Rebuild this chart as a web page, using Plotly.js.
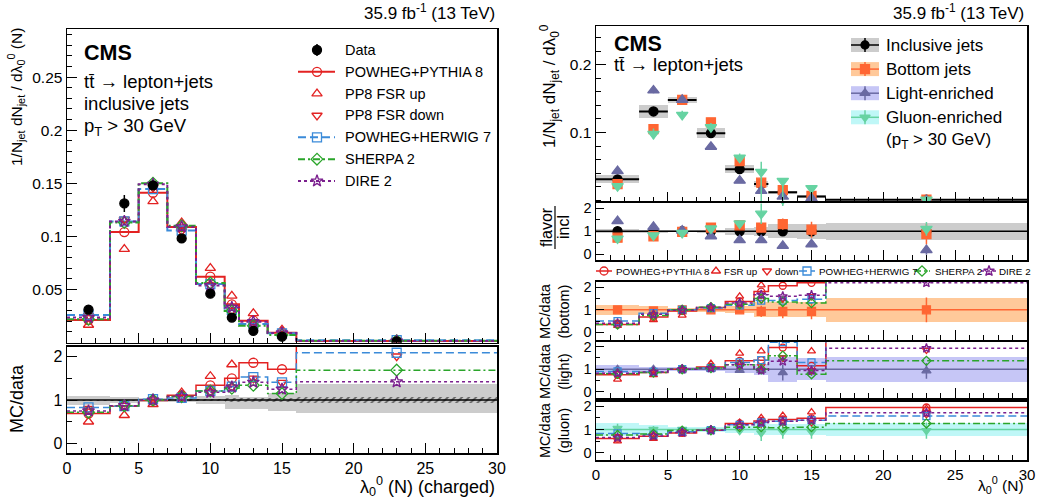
<!DOCTYPE html>
<html><head><meta charset="utf-8">
<script src="https://cdn.plot.ly/plotly-3.0.1.min.js"></script>
<style>html,body{margin:0;padding:0;background:#fff}#chart{width:1040px;height:498px}</style>
</head><body><div id="chart"></div>
<script>
// ---------------- DATA ----------------
const binEdges = [0, 3, 5, 7, 9, 11, 12, 14, 16, 30];
const binCenters = [1.5, 4, 6, 8, 10, 11.5, 13, 15, 23];

// Left: inclusive jets, lambda_0^0 (N) charged, normalized distribution
const dataIncl      = [0.031, 0.131, 0.148, 0.098, 0.046, 0.0235, 0.011, 0.0055, 0.001];
const dataInclErr   = [0.002, 0.008, 0.003, 0.004, 0.003, 0.002, 0.001, 0.001, 0.0003];
const pp8Incl       = [0.0212, 0.104, 0.141, 0.1087, 0.062, 0.036, 0.0206, 0.0093, 0.0014];
const fsrUpIncl     = [0.0165, 0.088, 0.133, 0.113, 0.070, 0.044, 0.0275, 0.012, 0.0016];
const fsrDownIncl   = [0.025, 0.116, 0.146, 0.105, 0.054, 0.030, 0.017, 0.008, 0.002];
const herwigIncl    = [0.026, 0.114, 0.1445, 0.1055, 0.055, 0.0307, 0.0175, 0.0086, 0.0022];
const sherpaIncl    = [0.022, 0.113, 0.150, 0.110, 0.056, 0.0297, 0.0158, 0.007, 0.0017];
const direIncl      = [0.0235, 0.114, 0.149, 0.109, 0.0536, 0.033, 0.0196, 0.009, 0.0014];

// Left: MC/data
const ratioTotUp    = [0.10, 0.06, 0.04, 0.04, 0.10, 0.12, 0.08, 0.17, 0.36];
const ratioTotDown  = [0.12, 0.06, 0.04, 0.04, 0.10, 0.20, 0.20, 0.25, 0.29];
const ratioStat     = [0.01, 0.01, 0.01, 0.015, 0.03, 0.04, 0.05, 0.05, 0.06];
const pp8Ratio      = [0.69, 0.86, 0.99, 1.11, 1.34, 1.50, 1.86, 1.71, 2.9];
const fsrUpRatio    = [0.50, 0.65, 0.90, 1.17, 1.55, 1.82, 2.4, 2.3, 2.5];
const fsrDownRatio  = [0.80, 0.87, 1.00, 1.05, 1.20, 1.30, 1.50, 1.40, 2.01];
const herwigRatio   = [0.83, 0.86, 1.02, 1.05, 1.21, 1.31, 1.53, 1.41, 2.09];
const sherpaRatio   = [0.72, 0.87, 1.00, 1.08, 1.21, 1.27, 1.34, 1.15, 1.69];
const direRatio     = [0.75, 0.87, 1.00, 1.08, 1.18, 1.30, 1.41, 1.25, 1.42];

// Right: flavour-dependent distributions
const flavInclusive    = [0.031, 0.131, 0.148, 0.099, 0.046, 0.024, 0.012, 0.0055, 0.001];
const flavInclusiveUnc = [0.006, 0.009, 0.004, 0.007, 0.006, 0.004, 0.002, 0.002, 0.001];
const flavBottom       = [0.024, 0.105, 0.148, 0.115, 0.058, 0.026, 0.015, 0.0065, 0.001];
const flavBottomErr    = [0.001, 0.004, 0.003, 0.003, 0.003, 0.003, 0.004, 0.003, 0.0005];
const flavLight        = [0.043, 0.162, 0.148, 0.079, 0.029, 0.014, 0.0055, 0.003, 0.0002];
const flavLightErr     = [0.002, 0.004, 0.003, 0.003, 0.002, 0.002, 0.002, 0.002, 0.0005];
const flavGluon        = [0.021, 0.098, 0.126, 0.108, 0.063, 0.042, 0.0287, 0.018, 0.001];
const flavGluonErrUp   = [0.002, 0.008, 0.006, 0.006, 0.006, 0.015, 0.004, 0.002, 0.002];
const flavGluonErrDn   = [0.002, 0.008, 0.006, 0.006, 0.006, 0.050, 0.030, 0.030, 0.002];

// Right: flavour / inclusive
const fracBand       = [0.08, 0.07, 0.05, 0.07, 0.15, 0.20, 0.30, 0.33, 0.38];
const fracBottom     = [0.72, 0.78, 0.97, 1.16, 1.26, 1.16, 1.31, 1.07, 0.87];
const fracBottomErr  = [0.05, 0.05, 0.03, 0.05, 0.10, 0.20, 0.25, 0.35, 0.45];
const fracLight      = [1.44, 1.19, 1.03, 0.78, 0.61, 0.61, 0.36, 0.43, 0.17];
const fracLightErr   = [0.05, 0.05, 0.05, 0.05, 0.08, 0.10, 0.10, 0.10, 0.20];
const fracGluon      = [0.68, 0.82, 0.93, 1.12, 1.34, 1.77, 2.40, 3.30, 1.10];
const fracGluonErr   = [0.08, 0.08, 0.06, 0.08, 0.12, 0.45, 0.30, 0.30, 0.30];

// Right: MC/data (bottom)
const bottomBand     = [0.22, 0.18, 0.08, 0.08, 0.15, 0.33, 0.33, 0.33, 0.54];
const bottomData     = [1.00, 0.95, 1.00, 1.00, 1.00, 0.93, 0.93, 0.93, 1.00];
const bottomDataErr  = [0.10, 0.10, 0.05, 0.05, 0.10, 0.25, 0.30, 0.35, 0.55];
const pp8Bottom      = [0.35, 0.68, 0.95, 1.10, 1.37, 1.81, 2.07, 2.20, 3.0];
const fsrUpBottom    = [0.30, 0.55, 0.75, 1.15, 1.60, 2.10, 2.60, 2.80, 3.5];
const fsrDownBottom  = [0.45, 0.80, 1.00, 1.10, 1.25, 1.45, 1.50, 1.60, 2.6];
const herwigBottom   = [0.50, 0.85, 1.00, 1.08, 1.20, 1.41, 1.41, 1.47, 2.6];
const sherpaBottom   = [0.35, 0.75, 1.00, 1.12, 1.25, 1.50, 1.35, 1.30, 2.5];
const direBottom     = [0.40, 0.80, 0.98, 1.10, 1.30, 1.67, 1.60, 1.65, 2.2];

// Right: MC/data (light)
const lightBand      = [0.18, 0.12, 0.08, 0.10, 0.15, 0.25, 0.55, 0.50, 0.55];
const lightData      = [1.00, 1.00, 1.00, 1.00, 0.95, 0.95, 0.85, 0.90, 0.93];
const lightDataErr   = [0.08, 0.08, 0.05, 0.05, 0.10, 0.15, 0.35, 0.20, 0.35];
const pp8Light       = [0.75, 0.85, 1.00, 1.10, 1.37, 1.40, 1.96, 1.15, 3.0];
const fsrUpLight     = [0.55, 0.75, 0.95, 1.25, 1.70, 1.80, 2.60, 1.80, 3.2];
const fsrDownLight   = [0.80, 0.90, 1.00, 1.05, 1.15, 1.15, 1.50, 0.95, 1.85];
const herwigLight    = [0.90, 0.88, 1.00, 1.05, 1.30, 1.40, 2.20, 1.30, 3.0];
const sherpaLight    = [0.80, 0.85, 1.00, 1.05, 1.20, 1.00, 1.60, 0.78, 1.37];
const direLight      = [0.82, 0.88, 1.00, 1.05, 1.20, 0.95, 1.35, 0.94, 1.93];

// Right: MC/data (gluon)
const gluonBand      = [0.27, 0.18, 0.12, 0.10, 0.15, 0.25, 0.25, 0.25, 0.27];
const gluonData      = [1.05, 1.00, 1.00, 1.00, 0.95, 0.85, 0.90, 0.90, 0.95];
const gluonDataErr   = [0.20, 0.15, 0.10, 0.08, 0.15, 0.35, 0.30, 0.30, 0.35];
const pp8Gluon       = [0.61, 0.71, 0.85, 0.97, 1.26, 1.37, 1.43, 1.48, 1.95];
const fsrUpGluon     = [0.50, 0.60, 0.80, 1.00, 1.30, 1.50, 1.60, 1.75, 1.90];
const fsrDownGluon   = [0.70, 0.75, 0.90, 0.97, 1.15, 1.25, 1.30, 1.30, 1.65];
const herwigGluon    = [0.83, 0.78, 0.90, 0.97, 1.20, 1.30, 1.35, 1.40, 1.58];
const sherpaGluon    = [0.76, 0.80, 0.95, 0.97, 1.10, 1.10, 1.07, 1.10, 1.26];
const direGluon      = [0.65, 0.72, 0.87, 0.97, 1.20, 1.30, 1.35, 1.40, 1.72];

const xTickVals = [0, 5, 10, 15, 20, 25, 30];
const legendNamesLeft = ['Data', 'POWHEG+PYTHIA 8', 'PP8 FSR up', 'PP8 FSR down', 'POWHEG+HERWIG 7', 'SHERPA 2', 'DIRE 2'];
const legendNamesFlav = ['Inclusive jets', 'Bottom jets', 'Light-enriched', 'Gluon-enriched'];
const legendNamesStrip = ['POWHEG+PYTHIA 8', 'FSR up', 'down', 'POWHEG+HERWIG 7', 'SHERPA 2', 'DIRE 2'];

// ---------------- STYLE ----------------
const W = 1040, H = 498;
const FONT = 'Liberation Sans, Arial, Helvetica, sans-serif';
const RED = '#e32222', BLUE = '#3b8bd9', GREEN = '#2aa52a', PURPLE = '#7b1f8e';
const ORANGE = '#ff6633', ORANGE_BAND = '#ffc99a';
const LIGHTC = '#6a6aa2', LIGHT_BAND = '#c6c6f6';
const GLUONC = '#66d3a2', GLUON_BAND = '#bff7f7';
const GRAY = '#cccccc';

const binWidths = binEdges.slice(1).map((e, i) => e - binEdges[i]);
const halfWidths = binWidths.map(w => w / 2);
const unity = binCenters.map(() => 1);
const xFull = [binEdges[0], binEdges[binEdges.length - 1]];

const models = [
  {key: 'pp8',     color: RED,    dash: 'solid',          symbol: 'circle-open'},
  {key: 'fsrUp',   color: RED,    dash: null,             symbol: 'triangle-up-open'},
  {key: 'fsrDown', color: RED,    dash: null,             symbol: 'triangle-down-open'},
  {key: 'herwig',  color: BLUE,   dash: '8px,4px',        symbol: 'square-open'},
  {key: 'sherpa',  color: GREEN,  dash: '7px,3px,2px,3px',symbol: 'diamond-open'},
  {key: 'dire',    color: PURPLE, dash: '3px,3px',        symbol: 'star-open'}
];
const setLeftMain = {pp8: pp8Incl, fsrUp: fsrUpIncl, fsrDown: fsrDownIncl, herwig: herwigIncl, sherpa: sherpaIncl, dire: direIncl};
const setLeftRatio = {pp8: pp8Ratio, fsrUp: fsrUpRatio, fsrDown: fsrDownRatio, herwig: herwigRatio, sherpa: sherpaRatio, dire: direRatio};
const setBottom = {pp8: pp8Bottom, fsrUp: fsrUpBottom, fsrDown: fsrDownBottom, herwig: herwigBottom, sherpa: sherpaBottom, dire: direBottom};
const setLight = {pp8: pp8Light, fsrUp: fsrUpLight, fsrDown: fsrDownLight, herwig: herwigLight, sherpa: sherpaLight, dire: direLight};
const setGluon = {pp8: pp8Gluon, fsrUp: fsrUpGluon, fsrDown: fsrDownGluon, herwig: herwigGluon, sherpa: sherpaGluon, dire: direGluon};

// ---------------- TRACE HELPERS ----------------
function stepTrace(vals, xa, ya, color, dash, width) {
  return {type: 'scatter', mode: 'lines', x: binEdges.slice(), y: vals.concat([vals[vals.length - 1]]),
    xaxis: xa, yaxis: ya, line: {shape: 'hv', color: color, dash: dash, width: width},
    hoverinfo: 'skip', showlegend: false};
}
function markerTrace(vals, xa, ya, symbol, color, size, errUp, errDn, xerr) {
  const t = {type: 'scatter', mode: 'markers', x: binCenters, y: vals, xaxis: xa, yaxis: ya,
    marker: {symbol: symbol, size: size, color: color, line: {width: 1.3, color: color}},
    hoverinfo: 'skip', showlegend: false};
  if (errUp) t.error_y = {type: 'data', symmetric: !errDn, array: errUp, arrayminus: errDn || errUp, color: color, thickness: 1.5, width: 0};
  if (xerr) t.error_x = {type: 'data', array: xerr, color: color, thickness: 2, width: 0};
  return t;
}
function bandTrace(center, up, dn, xa, ya, color, pattern) {
  const t = {type: 'bar', x: binCenters, base: center.map((c, i) => c - dn[i]), y: up.map((u, i) => u + dn[i]),
    width: binWidths, xaxis: xa, yaxis: ya, marker: {color: color, line: {width: 0}},
    hoverinfo: 'skip', showlegend: false};
  if (pattern) t.marker.pattern = pattern;
  return t;
}
function lineTrace(xs, ys, xa, ya, color, width, dash) {
  return {type: 'scatter', mode: 'lines', x: xs, y: ys, xaxis: xa, yaxis: ya,
    line: {color: color, width: width, dash: dash || 'solid'}, hoverinfo: 'skip', showlegend: false};
}
function mcTraces(set, xa, ya, lw, ms) {
  const out = [];
  models.forEach(m => { if (m.dash) out.push(stepTrace(set[m.key], xa, ya, m.color, m.dash, lw)); });
  models.forEach(m => { out.push(markerTrace(set[m.key], xa, ya, m.symbol, m.color, ms)); });
  return out;
}

const traces = [];
// Left main
traces.push(...mcTraces(setLeftMain, 'x', 'y', 2, 9));
traces.push(markerTrace(dataIncl, 'x', 'y', 'circle', '#000', 9, dataInclErr));
// Left ratio
traces.push(bandTrace(unity, ratioTotUp, ratioTotDown, 'x2', 'y2', GRAY));
traces.push(bandTrace(unity, ratioStat, ratioStat, 'x2', 'y2', 'rgba(0,0,0,0)',
  {shape: '/', fgcolor: '#000', bgcolor: 'rgba(0,0,0,0)', size: 5, solidity: 0.35, fillmode: 'overlay'}));
traces.push(lineTrace(xFull, [1, 1], 'x2', 'y2', '#000', 1.5));
traces.push(...mcTraces(setLeftRatio, 'x2', 'y2', 1.5, 9));

// Right main
traces.push(bandTrace(flavInclusive, flavInclusiveUnc, flavInclusiveUnc, 'x3', 'y3', GRAY));
traces.push(markerTrace(flavInclusive, 'x3', 'y3', 'circle', '#000', 9, null, null, halfWidths));
traces.push(markerTrace(flavBottom, 'x3', 'y3', 'square', ORANGE, 9, flavBottomErr));
traces.push(markerTrace(flavLight, 'x3', 'y3', 'triangle-up', LIGHTC, 10, flavLightErr));
traces.push(markerTrace(flavGluon, 'x3', 'y3', 'triangle-down', GLUONC, 10, flavGluonErrUp, flavGluonErrDn));

// Flavour / inclusive
traces.push(bandTrace(unity, fracBand, fracBand, 'x4', 'y4', GRAY));
traces.push(lineTrace(xFull, [1, 1], 'x4', 'y4', '#000', 1.5));
traces.push(markerTrace(unity, 'x4', 'y4', 'circle', '#000', 9));
traces.push(markerTrace(fracBottom, 'x4', 'y4', 'square', ORANGE, 9, fracBottomErr));
traces.push(markerTrace(fracLight, 'x4', 'y4', 'triangle-up', LIGHTC, 10, fracLightErr));
traces.push(markerTrace(fracGluon, 'x4', 'y4', 'triangle-down', GLUONC, 10, fracGluonErr));

// MC/data per flavour
function flavourRatio(xa, ya, band, bandColor, lineColor, dataVals, dataErr, symbol, set) {
  traces.push(bandTrace(unity, band, band, xa, ya, bandColor));
  traces.push(lineTrace(xFull, [1, 1], xa, ya, lineColor, 1.5));
  traces.push(markerTrace(dataVals, xa, ya, symbol, lineColor, 8, dataErr));
  traces.push(...mcTraces(set, xa, ya, 1.5, 7));
}
flavourRatio('x5', 'y5', bottomBand, ORANGE_BAND, ORANGE, bottomData, bottomDataErr, 'square', setBottom);
flavourRatio('x6', 'y6', lightBand, LIGHT_BAND, LIGHTC, lightData, lightDataErr, 'triangle-up', setLight);
flavourRatio('x7', 'y7', gluonBand, GLUON_BAND, GLUONC, gluonData, gluonDataErr, 'triangle-down', setGluon);

// ---------------- LEGENDS (pixel overlay axis x8/y8) ----------------
const shapes = [];
const annotations = [];
function ann(text, x, y, o) {
  o = o || {};
  annotations.push(Object.assign({text: text, x: x / W, y: 1 - y / H, xref: 'paper', yref: 'paper',
    showarrow: false, xanchor: o.xanchor || 'left', yanchor: o.yanchor || 'middle',
    textangle: o.angle || 0, align: o.align || 'left',
    font: {family: FONT, size: o.size || 15, color: '#000'}}, o.extra || {}));
}
function legGlyph(xm, y, x0, x1, color, dash, symbol, size, err, lw) {
  if (x0 !== null) traces.push(lineTrace([x0, x1], [y, y], 'x8', 'y8', color, lw || 2, dash));
  const t = {type: 'scatter', mode: 'markers', x: [xm], y: [y], xaxis: 'x8', yaxis: 'y8',
    marker: {symbol: symbol, size: size, color: color, line: {width: 1.3, color: color}},
    hoverinfo: 'skip', showlegend: false, cliponaxis: false};
  if (err) t.error_y = {type: 'data', array: [err], color: color, thickness: 1.5, width: 0};
  traces.push(t);
}

// Left legend
const LL = {x0: 298, x1: 335, xm: 317, xt: 343, y0: 50, dy: 21.83};
legendNamesLeft.forEach((name, i) => {
  const y = LL.y0 + i * LL.dy;
  if (i === 0) legGlyph(LL.xm, y, null, null, '#000', null, 'circle', 9, 6);
  else {
    const m = models[i - 1];
    legGlyph(LL.xm, y, m.dash ? LL.x0 : null, LL.x1, m.color, m.dash, m.symbol, 9);
  }
  ann(name, LL.xt, y, {size: 14.5});
});

// Flavour legend
const FL = {bx0: 851, bx1: 879, bh: 14, xt: 884, y0: 45, dy: 24.1};
const flavStyles = [
  {band: GRAY, color: '#000', symbol: 'circle', size: 8},
  {band: ORANGE_BAND, color: ORANGE, symbol: 'square', size: 9},
  {band: LIGHT_BAND, color: LIGHTC, symbol: 'triangle-up', size: 9},
  {band: GLUON_BAND, color: GLUONC, symbol: 'triangle-down', size: 9}
];
legendNamesFlav.forEach((name, i) => {
  const y = FL.y0 + i * FL.dy, s = flavStyles[i];
  shapes.push({type: 'rect', xref: 'x8', yref: 'y8', x0: FL.bx0, x1: FL.bx1, y0: y - FL.bh / 2, y1: y + FL.bh / 2,
    fillcolor: s.band, line: {width: 0}, layer: 'below'});
  legGlyph((FL.bx0 + FL.bx1) / 2, y, FL.bx0, FL.bx1, s.color, 'solid', s.symbol, s.size, FL.bh / 2, 1.5);
  ann(name, FL.xt, y, {size: 17});
});
ann('(p<sub>T</sub> &gt; 30 GeV)', FL.xt, FL.y0 + 4 * FL.dy, {size: 17});

// MC legend strip (right)
const stripY = 271;
const stripGlyphX = [604, 716, 767, 807, 922, 989];
const stripTextX = [614, 722, 773, 817, 933, 997];
legendNamesStrip.forEach((name, i) => {
  const m = models[i];
  legGlyph(stripGlyphX[i], stripY, m.dash ? stripGlyphX[i] - 8 : null, stripGlyphX[i] + 8, m.color, m.dash, m.symbol, 8, null, 1.5);
  ann(name, stripTextX[i], stripY, {size: 9.8});
});

// ---------------- TEXT ----------------
ann('35.9 fb<sup>-1</sup> (13 TeV)', 497, 12, {xanchor: 'right', size: 17});
ann('35.9 fb<sup>-1</sup> (13 TeV)', 1026, 12, {xanchor: 'right', size: 17});
ann('<b>CMS</b>', 82, 53, {size: 21.5});
ann('tt\u0304 \u2192 lepton+jets', 82, 81, {size: 18.5});
ann('inclusive jets', 82, 104, {size: 18.5});
ann('p<sub>T</sub> &gt; 30 GeV', 82, 127, {size: 18.5});
ann('<b>CMS</b>', 612, 44, {size: 21.5});
ann('tt\u0304 \u2192 lepton+jets', 612, 64, {size: 18.5});

ann('1/N<sub>jet</sub> dN<sub>jet</sub> / d\u03bb<sub>0</sub><sup>0</sup> (N)', 16, 26, {angle: -90, xanchor: 'center', yanchor: 'top', size: 15.5});
ann('MC/data', 17, 399, {angle: -90, xanchor: 'center', size: 18});
ann('\u03bb<sub>0</sub><sup>0</sup> (N) (charged)', 497, 486, {xanchor: 'right', size: 18});
ann('1/N<sub>jet</sub> dN<sub>jet</sub> / d\u03bb<sub>0</sub><sup>0</sup>', 549, 22, {angle: -90, xanchor: 'center', yanchor: 'top', size: 17});
ann('flavor', 546, 227, {angle: -90, xanchor: 'center', size: 16});
ann('incl', 563, 227, {angle: -90, xanchor: 'center', size: 16});
shapes.push({type: 'line', xref: 'paper', yref: 'paper', x0: 555 / W, x1: 555 / W, y0: 1 - 206 / H, y1: 1 - 249 / H, line: {color: '#000', width: 1.2}});
ann('MC/data<br>(bottom)', 554, 311, {angle: -90, xanchor: 'center', align: 'center', size: 14.5});
ann('MC/data<br>(light)', 554, 371, {angle: -90, xanchor: 'center', align: 'center', size: 14.5});
ann('MC/data<br>(gluon)', 554, 430, {angle: -90, xanchor: 'center', align: 'center', size: 14.5});
ann('\u03bb<sub>0</sub><sup>0</sup> (N)', 1026, 498, {xanchor: 'right', yanchor: 'bottom', size: 15.5});

// ---------------- AXES ----------------
function dom(top, bottom) { return [1 - bottom / H, 1 - top / H]; }
const LD = [67 / W, 497 / W], RD = [596 / W, 1027 / W];
function xAx(domain, anchor, labels, size) {
  return {domain: domain, anchor: anchor, range: [0, 30], tickmode: 'array', tickvals: xTickVals,
    showticklabels: labels, showline: true, mirror: true, linecolor: '#000', linewidth: 1.5,
    ticks: 'inside', ticklen: 10, tickwidth: 1, tickcolor: '#000', showgrid: false, zeroline: false,
    minor: {ticks: 'inside', ticklen: 5, dtick: 1, tick0: 0, tickcolor: '#000', showgrid: false},
    tickfont: {family: FONT, size: size || 16, color: '#000'}, fixedrange: true};
}
function yAx(domain, anchor, range, tickvals, ticktext, minorDtick, size, ticklen) {
  return {domain: domain, anchor: anchor, range: range, tickmode: 'array', tickvals: tickvals, ticktext: ticktext,
    showline: true, mirror: true, linecolor: '#000', linewidth: 1.5,
    ticks: 'inside', ticklen: ticklen || 10, tickwidth: 1, tickcolor: '#000', showgrid: false, zeroline: false,
    minor: {ticks: 'inside', ticklen: (ticklen || 10) / 2, dtick: minorDtick, tick0: 0, tickcolor: '#000', showgrid: false},
    tickfont: {family: FONT, size: size || 15, color: '#000'}, fixedrange: true};
}
const ratioTicks = [0, 1, 2], ratioText = ['0', '1', '2'];

const layout = {
  width: W, height: H, margin: {l: 0, r: 0, t: 0, b: 0},
  paper_bgcolor: '#fff', plot_bgcolor: 'rgba(0,0,0,0)',
  showlegend: false, barmode: 'overlay', bargap: 0, hovermode: false,
  font: {family: FONT, color: '#000'},
  xaxis: xAx(LD, 'y', false),
  yaxis: yAx(dom(29.3, 342.5), 'x', [0, 0.295], [0.05, 0.1, 0.15, 0.2, 0.25], ['0.05', '0.1', '0.15', '0.2', '0.25'], 0.01, 15.5),
  xaxis2: xAx(LD, 'y2', true, 16),
  yaxis2: yAx(dom(346.7, 453), 'x2', [-0.22, 2.23], ratioTicks, ratioText, 0.5, 16),
  xaxis3: xAx(RD, 'y3', false),
  yaxis3: yAx(dom(26, 201.7), 'x3', [-0.002, 0.257], [0.1, 0.2], ['0.1', '0.2'], 0.02, 15.5),
  xaxis4: xAx(RD, 'y4', false),
  yaxis4: yAx(dom(202.7, 260), 'x4', [-0.26, 2.25], ratioTicks, ratioText, 0.5, 14.5, 8),
  xaxis5: xAx(RD, 'y5', false),
  yaxis5: yAx(dom(281.7, 340), 'x5', [-0.34, 2.25], ratioTicks, ratioText, 0.5, 14.5, 8),
  xaxis6: xAx(RD, 'y6', false),
  yaxis6: yAx(dom(341.7, 398.3), 'x6', [-0.29, 2.22], ratioTicks, ratioText, 0.5, 14.5, 8),
  xaxis7: xAx(RD, 'y7', true, 15),
  yaxis7: yAx(dom(401.7, 460), 'x7', [-0.32, 2.2], ratioTicks, ratioText, 0.5, 14.5, 8),
  xaxis8: {domain: [0, 1], anchor: 'y8', range: [0, W], visible: false, fixedrange: true},
  yaxis8: {domain: [0, 1], anchor: 'x8', range: [H, 0], visible: false, fixedrange: true},
  shapes: shapes,
  annotations: annotations
};

Plotly.newPlot('chart', traces, layout, {staticPlot: true, displayModeBar: false});
</script>
</body></html>
